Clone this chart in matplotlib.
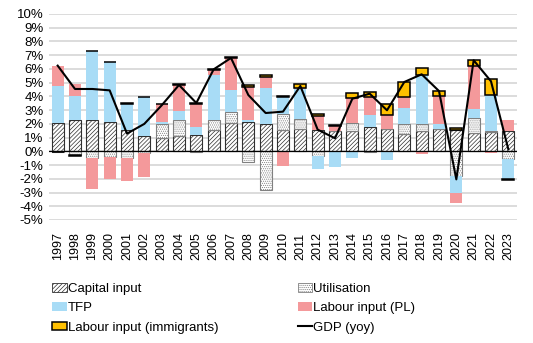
import numpy as np
import matplotlib
matplotlib.use("Agg")
import matplotlib.pyplot as plt
from matplotlib.patches import Patch
from matplotlib.lines import Line2D

plt.rcParams['font.family'] = ['Liberation Sans', 'DejaVu Sans']
plt.rcParams['hatch.linewidth'] = 0.5

years = [str(y) for y in range(1997, 2024)]
capital = [2.06, 2.26, 2.26, 2.16, 1.53, 1.09, 0.97, 1.09, 1.19, 1.58, 2.04, 2.14, 2.01, 1.58,
           1.60, 1.58, 1.46, 1.48, 1.77, 1.63, 1.29, 1.46, 1.60, 1.58, 1.33, 1.41, 1.46]
utilisation = [-0.02, -0.30, -0.50, -0.41, -0.46, -0.12, 1.04, 1.17, -0.08, 0.73, 0.82, -0.78, -2.79, 1.16,
               0.73, -0.36, 0.0, 0.58, -0.08, 0.0, 0.68, 0.51, 0.0, -1.80, 1.12, 0.05, -0.56]
tfp = [2.67, 1.77, 5.04, 4.32, 1.92, 2.84, 0.15, 0.65, 0.56, 3.25, 1.58, 0.12, 2.63, 1.22,
       2.21, -0.90, -1.14, -0.46, 0.85, -0.61, 1.19, 3.56, 0.41, -1.23, 0.63, 2.62, -1.43]
labour_pl = [1.50, 0.85, -2.23, -1.60, -1.72, -1.75, 1.26, 1.92, 1.72, 0.36, 2.36, 2.42, 0.77, -1.07,
             0.10, 0.97, 0.36, 1.82, 1.34, 1.04, 0.80, -0.22, 2.00, -0.73, 3.16, -0.10, 0.85]
labour_imm = [-0.03, -0.05, 0.04, 0.04, 0.04, 0.04, 0.04, 0.04, 0.03, 0.04, 0.04, 0.12, 0.15, 0.05,
              0.24, 0.15, 0.12, 0.34, 0.38, 0.80, 1.06, 0.51, 0.39, 0.15, 0.43, 1.16, -0.12]
gdp = [6.24, 4.54, 4.54, 4.44, 1.29, 2.00, 3.35, 4.83, 3.52, 5.97, 6.80, 4.10, 2.79, 2.89,
       4.76, 1.58, 0.95, 3.83, 4.20, 2.99, 5.05, 5.61, 4.39, -2.04, 6.63, 5.10, 0.15]

fig = plt.figure(figsize=(5.33, 3.43), dpi=100)
ax = fig.add_axes([49/533, 1-220/343, 468/533, 206/343])

x = np.arange(len(years))
w = 0.7
pos_base = np.zeros(len(years))
neg_base = np.zeros(len(years))

cap_style = dict(facecolor='white', edgecolor='#303030', hatch='////////', linewidth=0.8)
util_style = dict(facecolor='white', edgecolor='#808080', hatch='........', linewidth=0.8)
styles = [
    (capital, cap_style),
    (utilisation, util_style),
    (tfp, dict(facecolor='#a8dcf6', edgecolor='none', linewidth=0)),
    (labour_pl, dict(facecolor='#f4999b', edgecolor='none', linewidth=0)),
    (labour_imm, dict(facecolor='#ffc000', edgecolor='black', linewidth=1.1)),
]
for vals, st in styles:
    v = np.array(vals)
    bottom = np.where(v >= 0, pos_base, neg_base)
    ax.bar(x, v, w, bottom=bottom, zorder=2, **st)
    pos_base = pos_base + np.where(v > 0, v, 0)
    neg_base = neg_base + np.where(v < 0, v, 0)

ax.plot(x, gdp, color='black', linewidth=1.5, zorder=4)
ax.axhline(0, color='black', linewidth=0.9, zorder=3)

ax.set_xlim(-0.5, len(years) - 0.5)
ax.set_ylim(-5, 10)
ax.set_yticks(np.arange(-5, 11, 1))
ax.set_yticklabels([f'{v}%' for v in range(-5, 11)], fontsize=9.5)
ax.yaxis.grid(True, color='#d9d9d9', linewidth=1.3, zorder=0)
ax.set_axisbelow(True)
ax.set_xticks(x)
ax.set_xticklabels(years, rotation=90, fontsize=9)
ax.tick_params(axis='both', length=0)
ax.tick_params(axis='x', pad=9)
ax.tick_params(axis='y', pad=4)
for s in ax.spines.values():
    s.set_visible(False)

handles = [
    Patch(facecolor='white', edgecolor='#303030', hatch='////////', linewidth=0.6),
    Patch(facecolor='#a8dcf6', edgecolor='none'),
    Patch(facecolor='#ffc000', edgecolor='black', linewidth=1.1),
    Patch(facecolor='white', edgecolor='#808080', hatch='........', linewidth=0.6),
    Patch(facecolor='#f4999b', edgecolor='none'),
    Line2D([0], [0], color='black', linewidth=1.5),
]
labels = ['Capital input', 'TFP', 'Labour input (immigrants)',
          'Utilisation', 'Labour input (PL)', 'GDP (yoy)']
fig.legend(handles, labels, loc='upper left', bbox_to_anchor=(52/533, 1-283/343), ncol=2,
           frameon=False, fontsize=9.5, handlelength=1.1, handleheight=0.6, handletextpad=0.1,
           labelspacing=0.55, columnspacing=6.0, borderaxespad=0, borderpad=0)

fig.savefig('out.png', dpi=100)
